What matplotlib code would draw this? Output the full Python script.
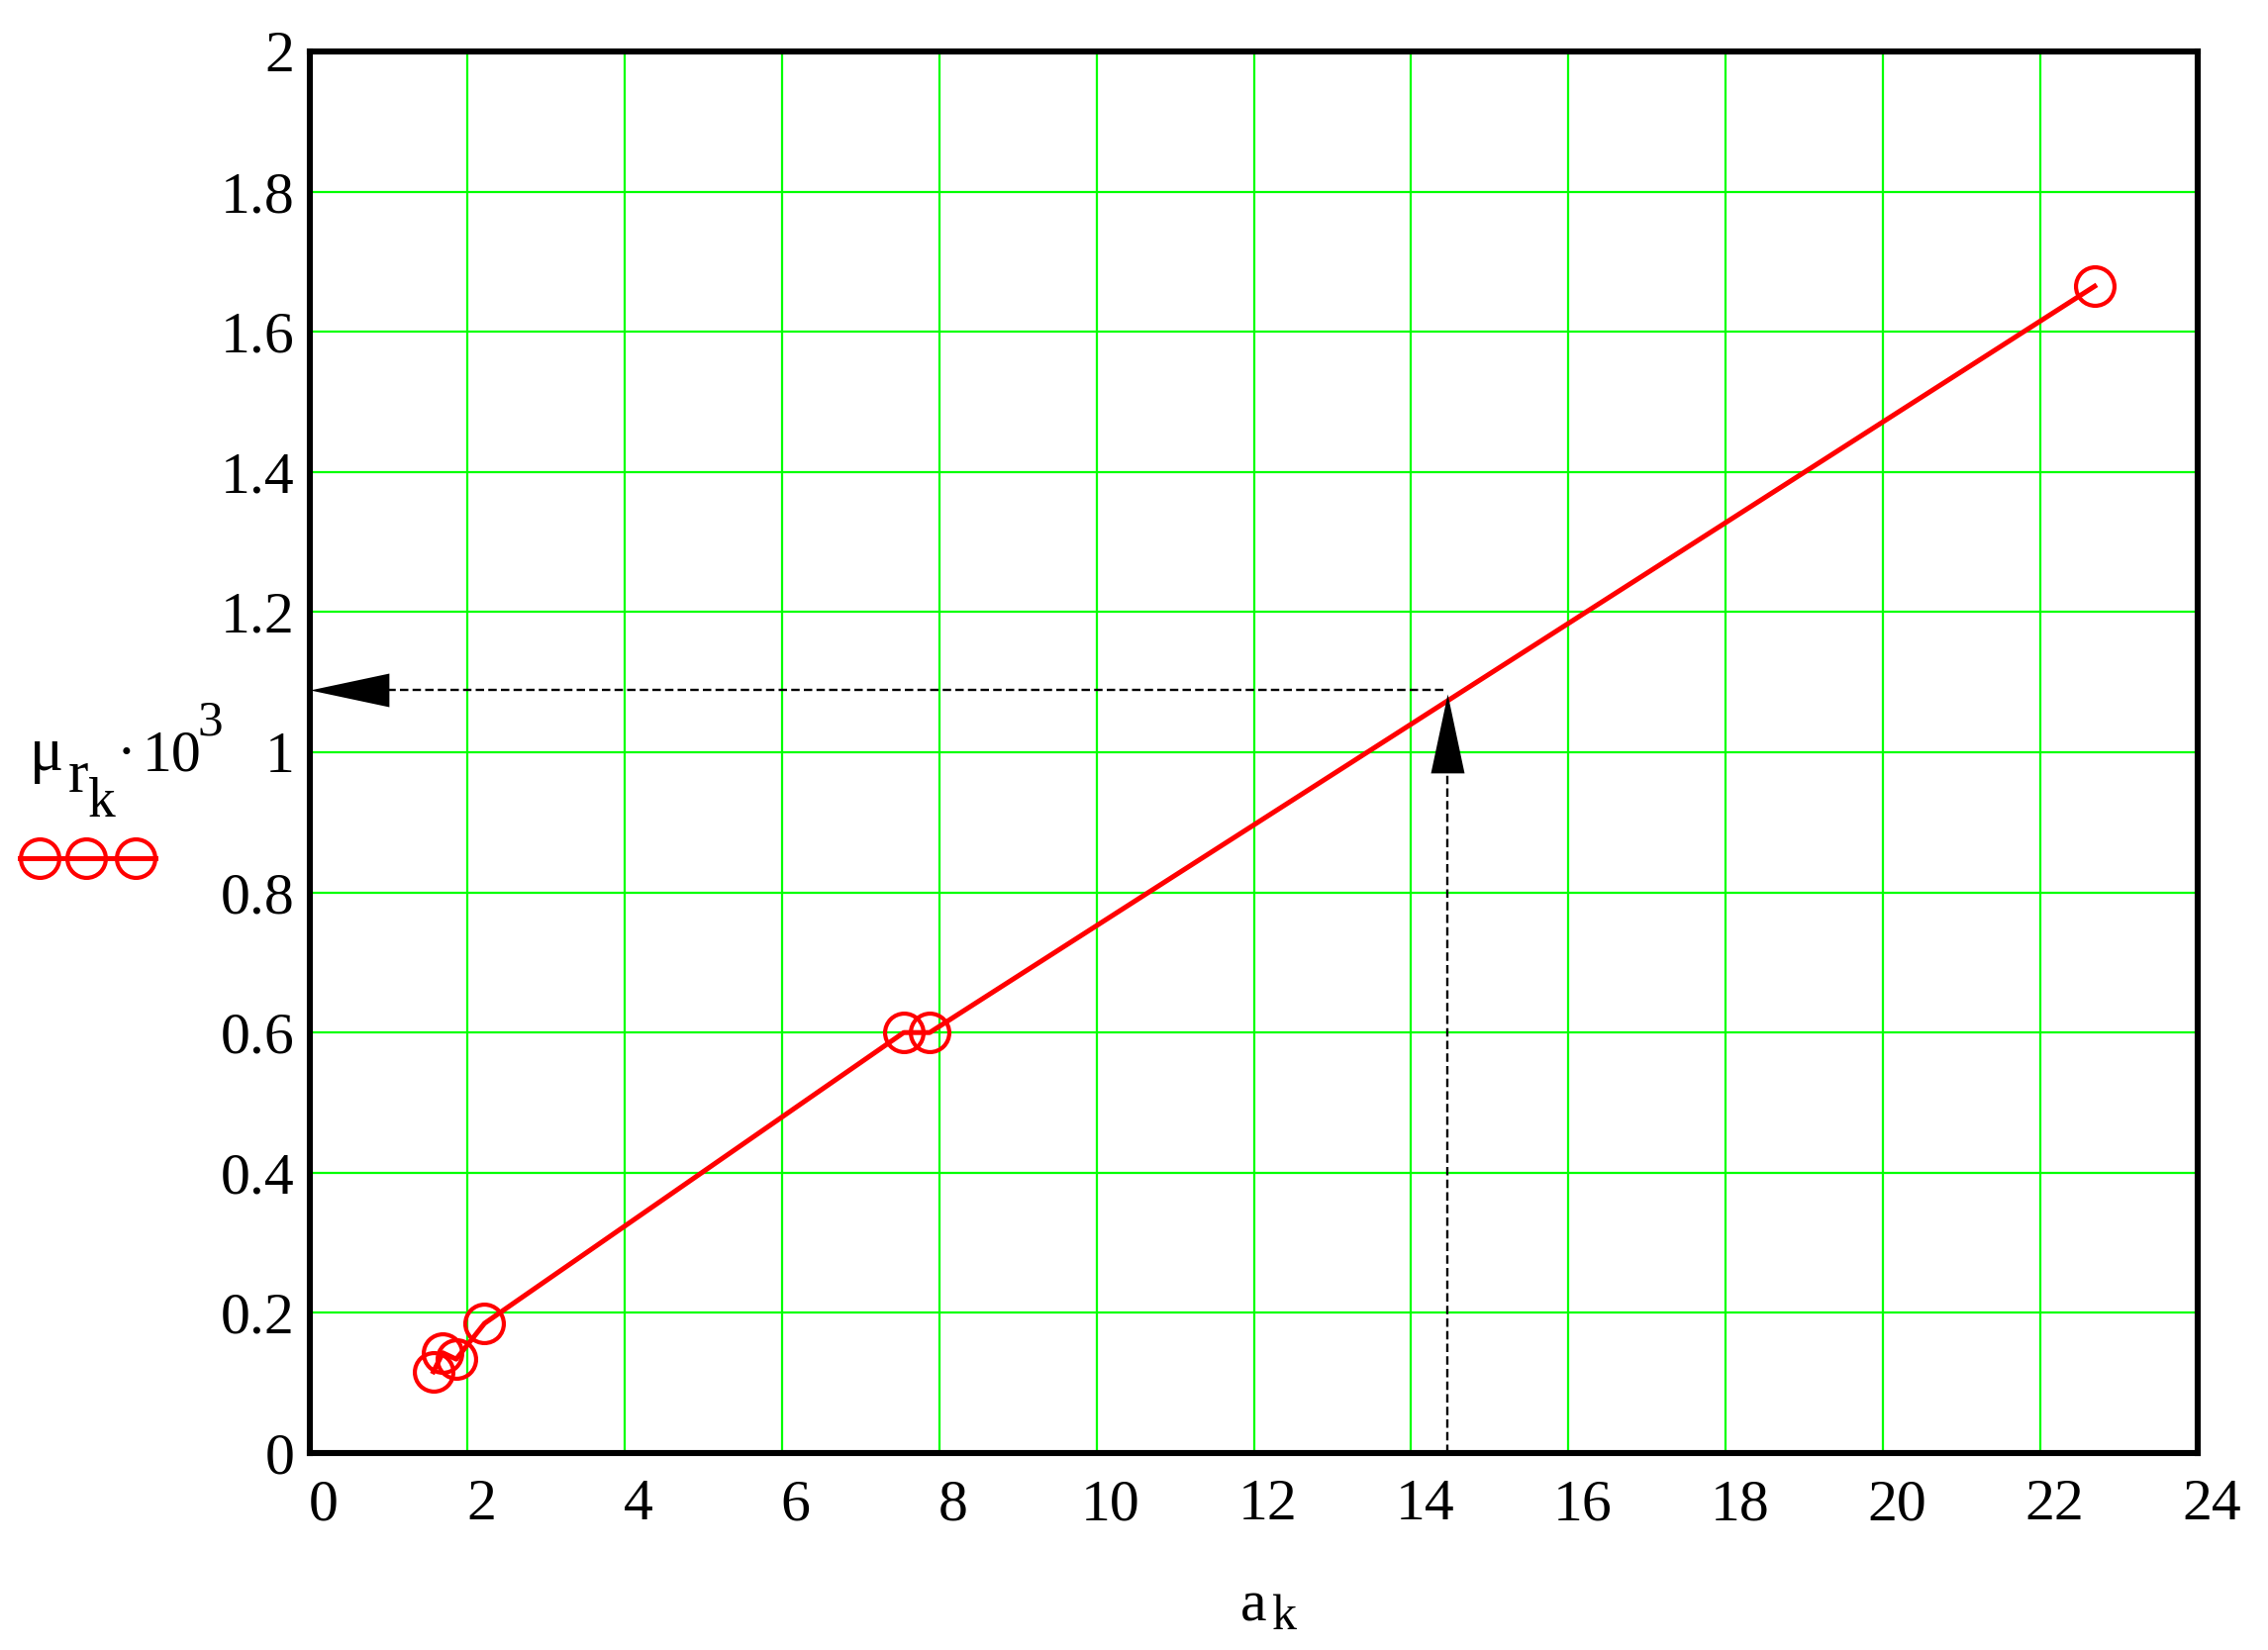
"""
plot.py
Grafik mu_r_k * 10^3 terhadap a_k (gaya Mathcad) dengan pembacaan nilai lewat panah.
"""
import numpy as np
import matplotlib
matplotlib.use('Agg')
import matplotlib.pyplot as plt
from matplotlib.lines import Line2D
from matplotlib.transforms import ScaledTranslation

# ─── DATA ────────────────────────────────────────────────────────────────────
a_k   = [1.57, 1.69, 1.86, 2.22, 7.55, 7.88, 22.69]
mu_rk = [0.116, 0.143, 0.134, 0.185, 0.600, 0.600, 1.665]

# titik pembacaan (panah putus-putus)
a_read  = 14.46
mu_read = 1.089

x_ticks = [0, 2, 4, 6, 8, 10, 12, 14, 16, 18, 20, 22, 24]
y_ticks = [0, 0.2, 0.4, 0.6, 0.8, 1.0, 1.2, 1.4, 1.6, 1.8, 2.0]
y_tick_labels = ['0', '0.2', '0.4', '0.6', '0.8', '1', '1.2', '1.4', '1.6', '1.8', '2']

# ─── GAYA ────────────────────────────────────────────────────────────────────
RED   = '#FF0000'
GREEN = '#00FF00'
BLACK = '#000000'
FONT  = 'Liberation Serif'

W, H = 2291, 1667
DPI = 100
fig = plt.figure(figsize=(W / DPI, H / DPI), dpi=DPI)


def px(x, y):
    """koordinat piksel (dari kiri-atas) -> koordinat figure"""
    return x / W, 1 - y / H


ax = fig.add_axes([313 / W, 1 - 1468 / H, (2220 - 313) / W, (1468 - 52) / H])

# ─── GRID & SUMBU ────────────────────────────────────────────────────────────
ax.set_xlim(0, 24)
ax.set_ylim(0, 2)
ax.set_xticks(x_ticks)
ax.set_xticklabels([str(t) for t in x_ticks])
ax.set_yticks(y_ticks)
ax.set_yticklabels(y_tick_labels)
ax.grid(True, color=GREEN, linewidth=1.6, linestyle='-')
ax.set_axisbelow(True)
ax.tick_params(axis='both', length=0, labelsize=43, colors=BLACK)
ax.tick_params(axis='x', pad=19)
ax.tick_params(axis='y', pad=11)
for lab in ax.get_xticklabels() + ax.get_yticklabels():
    lab.set_fontfamily(FONT)
# label sumbu x digeser sedikit ke kanan (seperti Mathcad)
shift = ScaledTranslation(14 / DPI, 0, fig.dpi_scale_trans)
for lab in ax.get_xticklabels():
    lab.set_transform(lab.get_transform() + shift)
for sp in ax.spines.values():
    sp.set_linewidth(4.4)
    sp.set_color(BLACK)
    sp.set_zorder(5)

# ─── DATA TRACE ──────────────────────────────────────────────────────────────
ax.plot(a_k, mu_rk, color=RED, linewidth=3.6, marker='o', markersize=28,
        markerfacecolor='none', markeredgecolor=RED, markeredgewidth=3.0,
        zorder=3, clip_on=False)

# ─── PANAH PEMBACAAN ─────────────────────────────────────────────────────────
dash = (0, (3.6, 1.8))
ax.plot([0.5, a_read], [mu_read, mu_read], color=BLACK, linewidth=1.7,
        linestyle=dash, zorder=4)
ax.plot([a_read, a_read], [0, mu_read - 0.05], color=BLACK, linewidth=1.7,
        linestyle=dash, zorder=4, clip_on=False)
# kepala panah: segitiga 80 px x 34 px, ujung tepat di titik
head_left = [(0, 0), (80, 17), (80, -17), (0, 0)]
head_up   = [(0, 0), (17, -80), (-17, -80), (0, 0)]
ax.plot([0], [mu_read], marker=head_left, markersize=115, color=BLACK,
        markeredgewidth=0, linestyle='none', zorder=6, clip_on=False)
ax.plot([a_read], [mu_read - 0.005], marker=head_up, markersize=115, color=BLACK,
        markeredgewidth=0, linestyle='none', zorder=6, clip_on=False)

# ─── LABEL SUMBU ─────────────────────────────────────────────────────────────
# x: a_k
fig.text(*px(1253, 1637), 'a', fontsize=43, family=FONT, ha='left', va='baseline')
fig.text(*px(1285, 1646), 'k', fontsize=36, family=FONT, ha='left', va='baseline')

# y: mu_{r_k} . 10^3
fig.text(*px(30, 778), 'μ', fontsize=46, family=FONT, ha='left', va='baseline')
fig.text(*px(69, 800), 'r', fontsize=44, family=FONT, ha='left', va='baseline')
fig.text(*px(89, 825), 'k', fontsize=40, family=FONT, ha='left', va='baseline')
fig.text(*px(128, 778), '·', fontsize=43, family=FONT, ha='center', va='baseline')
fig.text(*px(144, 778), '10', fontsize=43, family=FONT, ha='left', va='baseline')
fig.text(*px(199, 742), '3', fontsize=37, family=FONT, ha='left', va='baseline')

# simbol legenda trace
leg_x = [20, 40, 87, 137, 157]
fig.add_artist(Line2D([x / W for x in leg_x], [1 - 867 / H] * len(leg_x),
                      transform=fig.transFigure, color=RED, linewidth=3.6,
                      marker='o', markersize=28, markevery=[1, 2, 3],
                      markerfacecolor='none', markeredgecolor=RED,
                      markeredgewidth=3.0))

fig.savefig('out.png', dpi=DPI)
plt.close(fig)
